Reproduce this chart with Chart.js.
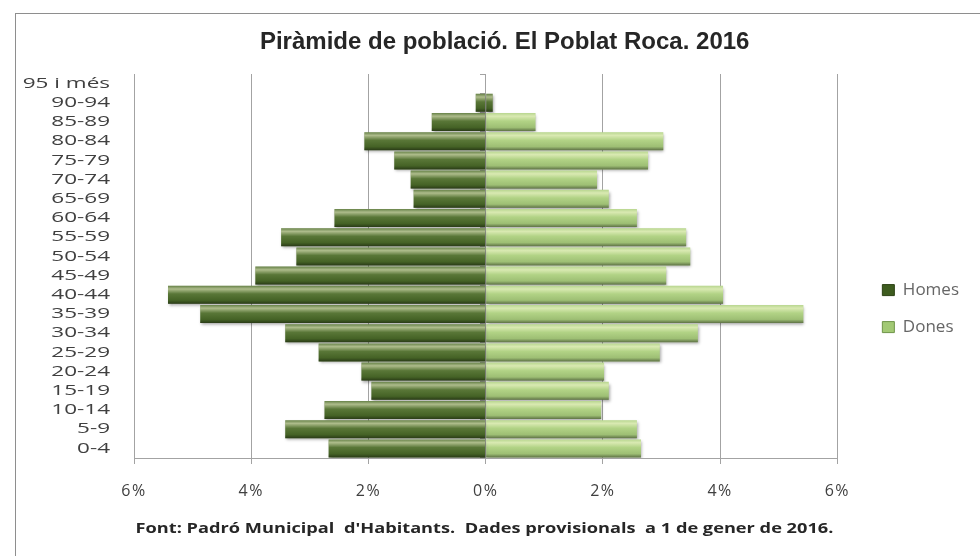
<!DOCTYPE html>
<html>
<head>
<meta charset="utf-8">
<title>Piràmide de població. El Poblat Roca. 2016</title>
<script src="https://cdn.jsdelivr.net/npm/chart.js@4/dist/chart.umd.min.js"></script>
<style>
  html, body { margin: 0; padding: 0; background: #fff; overflow: hidden; }
  #frame { position: absolute; left: 15px; top: 13px; width: 1000px; height: 600px; border: 1px solid #8e8e8e; }
  #wrap { position: absolute; left: 0; top: 0; width: 980px; height: 556px; }
</style>
</head>
<body>
<div id="frame"></div>
<div id="wrap"><canvas id="myChart" width="980" height="556"></canvas></div>
<script>
// age groups, top row first
const ageGroups = ['95 i més', '90-94', '85-89', '80-84', '75-79', '70-74', '65-69', '60-64', '55-59', '50-54',
                   '45-49', '40-44', '35-39', '30-34', '25-29', '20-24', '15-19', '10-14', '5-9', '0-4'];

// % of total population
const homes = [0, 0.17, 0.92, 2.07, 1.56, 1.28, 1.23, 2.58, 3.49, 3.23,
               3.93, 5.42, 4.87, 3.42, 2.85, 2.12, 1.95, 2.75, 3.42, 2.68];
const dones = [0, 0.12, 0.85, 3.03, 2.77, 1.90, 2.10, 2.58, 3.42, 3.49,
               3.08, 4.05, 5.42, 3.62, 2.97, 2.02, 2.10, 1.97, 2.58, 2.65];

const xTicks = [-6, -4, -2, 0, 2, 4, 6];

const titleText = 'Piràmide de població. El Poblat Roca. 2016';
const footText = "Font: Padró Municipal  d'Habitants.  Dades provisionals  a 1 de gener de 2016.";

const gridColor = '#a3a3a3';
const darkGreen = '#4b6b29';
const lightGreen = '#abcf7e';

// shading so the bars look like the excel 3d ones
const barShine = {
    id: 'barShine',
    beforeDatasetsDraw(chart) {
        const c = chart.ctx;
        c.save();
        c.shadowColor = 'rgba(0,0,0,0.35)';
        c.shadowBlur = 3;
        c.shadowOffsetX = 1;
        c.shadowOffsetY = 2;
    },
    afterDatasetsDraw(chart) {
        const c = chart.ctx;
        c.restore();
        chart.data.datasets.forEach((ds, di) => {
            chart.getDatasetMeta(di).data.forEach(bar => {
                const p = bar.getProps(['x', 'y', 'base', 'height'], true);
                const left = Math.min(p.x, p.base);
                const w = Math.abs(p.x - p.base);
                if (w < 0.5) return;
                const top = p.y - p.height / 2;
                const g = c.createLinearGradient(0, top, 0, top + p.height);
                g.addColorStop(0, 'rgba(255,255,230,0.15)');
                g.addColorStop(0.18, 'rgba(255,255,220,0.55)');
                g.addColorStop(0.45, 'rgba(255,255,220,0.08)');
                g.addColorStop(0.8, 'rgba(0,0,0,0.08)');
                g.addColorStop(1, 'rgba(0,0,0,0.45)');
                c.fillStyle = g;
                c.fillRect(left, top, w, p.height);
            });
        });
    }
};

// the original picture has wide, stretched lettering: stretch / shift some texts horizontally
function stretchDraw(obj, fnName, sx, anchorFn, spacing, dx) {
    if (obj[fnName + 'Stretched']) return;
    const orig = obj[fnName].bind(obj);
    obj[fnName] = function (area) {
        const c = obj.ctx;
        const x0 = anchorFn();
        c.save();
        if (spacing) c.letterSpacing = spacing;
        c.translate(x0 + (dx || 0), 0);
        c.scale(sx, 1);
        c.translate(-x0, 0);
        orig(area);
        c.restore();
    };
    obj[fnName + 'Stretched'] = true;
}

const stretchText = {
    id: 'stretchText',
    beforeDraw(chart) {
        const y = chart.scales.y;
        stretchDraw(y, 'drawLabels', 1.5, () => y.right - y.options.ticks.padding);
        const x = chart.scales.x;
        stretchDraw(x, 'drawLabels', 1, () => 0, '1.5px');
        const foot = chart.boxes.find(b => b.options && b.options.text === footText);
        if (foot) stretchDraw(foot, 'draw', 1.3, () => (foot.left + foot.right) / 2);
        const head = chart.boxes.find(b => b.options && b.options.text === titleText);
        if (head) stretchDraw(head, 'draw', 1, () => 0, null, 19);
    }
};

const ctx = document.getElementById('myChart');

new Chart(ctx, {
    type: 'bar',
    data: {
        labels: ageGroups,
        datasets: [
            {
                label: 'Homes',
                data: homes.map(v => -v),
                backgroundColor: darkGreen,
                borderWidth: 0,
                barPercentage: 0.94,
                categoryPercentage: 1
            },
            {
                label: 'Dones',
                data: dones,
                backgroundColor: (c) => c.dataIndex === 1 ? darkGreen : lightGreen,
                borderWidth: 0,
                barPercentage: 0.94,
                categoryPercentage: 1
            }
        ]
    },
    options: {
        indexAxis: 'y',
        responsive: false,
        animation: false,
        layout: { padding: { left: 0, right: 11, top: 0, bottom: 10 } },
        scales: {
            x: {
                stacked: true,
                min: -6,
                max: 6,
                afterBuildTicks: s => { s.ticks = xTicks.map(v => ({ value: v })); },
                afterFit: s => { s.height = 51.2; },
                ticks: {
                    callback: v => Math.abs(v) + '%',
                    font: { family: 'Open Sans', size: 16 },
                    color: '#404040',
                    padding: 18
                },
                grid: { color: gridColor, tickLength: 6 },
                border: { color: gridColor }
            },
            y: {
                stacked: true,
                afterFit: s => { s.width = 134; },
                grid: { display: false, drawTicks: false },
                border: { display: false },
                ticks: {
                    autoSkip: false,
                    font: { family: 'Open Sans', size: 15 },
                    color: '#404040',
                    padding: 24
                }
            },
            y0: {
                type: 'category',
                axis: 'y',
                position: { x: 0 },
                ticks: { display: false },
                grid: { drawOnChartArea: false, offset: true, tickLength: 5, color: gridColor },
                border: { color: gridColor }
            },
            yR: {
                type: 'category',
                axis: 'y',
                position: 'right',
                afterFit: s => { s.width = 25; },
                ticks: { display: false },
                grid: { display: false, drawTicks: false },
                border: { display: false }
            }
        },
        plugins: {
            tooltip: { enabled: false },
            title: {
                display: true,
                fullSize: false,
                text: titleText,
                color: '#262626',
                font: { family: 'Liberation Sans', size: 24, weight: 'bold' },
                padding: { top: 27.6, bottom: 17.6 }
            },
            subtitle: {
                display: true,
                position: 'bottom',
                text: footText,
                color: '#262626',
                font: { family: 'Open Sans', size: 14, weight: 'bold' },
                padding: { top: 11, bottom: 9 }
            },
            legend: {
                position: 'right',
                title: { display: true, text: ' ', font: { size: 1 }, padding: { top: 70, bottom: 0 } },
                labels: {
                    boxWidth: 12,
                    boxHeight: 11,
                    padding: 20,
                    color: '#262626',
                    font: { family: 'Open Sans', size: 17 },
                    generateLabels: () => [
                        { text: 'Homes', fillStyle: '#3e5c1f', strokeStyle: '#2c4214', lineWidth: 1, datasetIndex: 0 },
                        { text: 'Dones', fillStyle: '#a2c974', strokeStyle: '#6f9448', lineWidth: 1, datasetIndex: 1 }
                    ]
                }
            }
        }
    },
    plugins: [barShine, stretchText]
});
</script>
</body>
</html>
